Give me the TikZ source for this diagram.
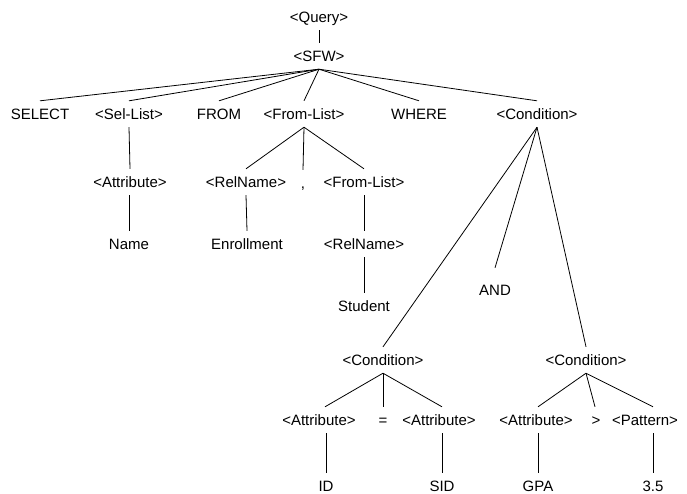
\documentclass[tikz,border=0pt]{standalone}
\usepackage{fontspec}
\setmainfont{Liberation Sans}
\begin{document}
\begin{tikzpicture}[x=1pt,y=-1pt,
  t/.style={font=\fontsize{15}{18}\selectfont, text height=10pt, text depth=0pt,
            inner xsep=0pt, inner ysep=8pt, anchor=center},
  e/.style={line width=0.8pt, black}]
\useasboundingbox (0,0) rectangle (687,493);
% nodes
\node[t] (query) at (319,17) {<Query>};
\node[t] (sfw) at (319,56) {<SFW>};
\node[t] (select) at (40,114) {SELECT};
\node[t] (sellist) at (129,114) {<Sel-List>};
\node[t] (from) at (219,114) {FROM};
\node[t] (fromlist) at (304,114) {<From-List>};
\node[t] (where) at (419,114) {WHERE};
\node[t] (cond) at (537,114) {<Condition>};
\node[t] (attr1) at (130,182) {<Attribute>};
\node[t] (name) at (129,244) {Name};
\node[t] (rel1) at (246,182) {<RelName>};
\node[t] (comma) at (303,183) {,};
\node[t] (fromlist2) at (364,182) {<From-List>};
\node[t] (enroll) at (247,244) {Enrollment};
\node[t] (rel2) at (364,244) {<RelName>};
\node[t] (student) at (364,306) {Student};
\node[t] (and) at (495,290) {AND};
\node[t] (condl) at (383,360) {<Condition>};
\node[t] (condr) at (586,360) {<Condition>};
\node[t] (attrl) at (319,420) {<Attribute>};
\node[t] (eq) at (383,420) {=};
\node[t] (attrm) at (439,420) {<Attribute>};
\node[t] (attrr) at (536,420) {<Attribute>};
\node[t] (gt) at (596,420) {>};
\node[t] (pat) at (645,420) {<Pattern>};
\node[t] (id) at (326,486) {ID};
\node[t] (sid) at (442,486) {SID};
\node[t] (gpa) at (538,486) {GPA};
\node[t] (val) at (653,486) {3.5};
% edges
\draw[e] (query.south) -- (sfw.north);
\foreach \c in {select,sellist,from,fromlist,where,cond}
  \draw[e] (sfw.south) -- (\c.north);
\draw[e] (sellist.south) -- (attr1.north);
\draw[e] ([xshift=-1pt]attr1.south) -- (name.north);
\draw[e] (fromlist.south) -- (rel1.north);
\draw[e] (fromlist.south) -- (comma.north);
\draw[e] (fromlist.south) -- (fromlist2.north);
\draw[e] (rel1.south) -- ([xshift=0pt]enroll.north);
\draw[e] (fromlist2.south) -- (rel2.north);
\draw[e] (rel2.south) -- (student.north);
\draw[e] (cond.south) -- (condl.north);
\draw[e] (cond.south) -- ([yshift=9pt]and.north);
\draw[e] (cond.south) -- (condr.north);
\draw[e] (condl.south) -- ([xshift=6pt]attrl.north);
\draw[e] (condl.south) -- (eq.north);
\draw[e] (condl.south) -- ([xshift=3pt]attrm.north);
\draw[e] (condr.south) -- ([xshift=2pt]attrr.north);
\draw[e] (condr.south) -- ([xshift=-1pt]gt.north);
\draw[e] (condr.south) -- ([xshift=8pt]pat.north);
\draw[e] ([xshift=7pt]attrl.south) -- (id.north);
\draw[e] ([xshift=3pt]attrm.south) -- (sid.north);
\draw[e] ([xshift=2pt]attrr.south) -- (gpa.north);
\draw[e] ([xshift=8pt]pat.south) -- (val.north);
\end{tikzpicture}
\end{document}
